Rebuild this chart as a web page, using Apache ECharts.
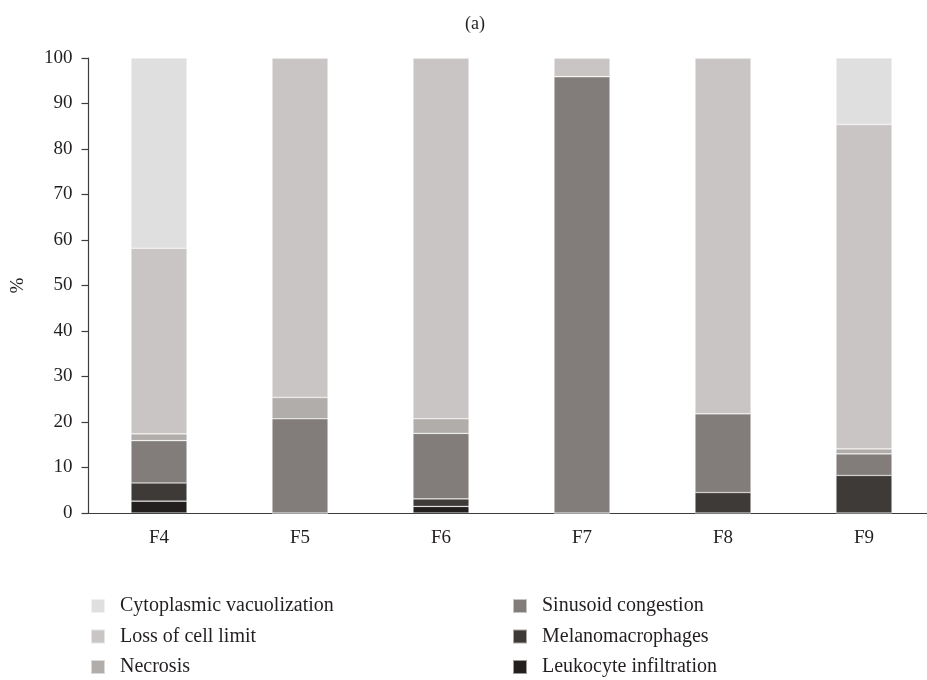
<!DOCTYPE html>
<html>
<head>
<meta charset="utf-8">
<script src="https://cdn.jsdelivr.net/npm/echarts@6/dist/echarts.min.js"></script>
<style>html,body{margin:0;padding:0;background:#fff}#c{width:927px;height:680px}</style>
</head>
<body>
<div id="c"></div>
<script>
const categories = ['F4', 'F5', 'F6', 'F7', 'F8', 'F9'];
const leukocyte = [2.6, 0, 1.45, 0, 0, 0];
const melanomacrophages = [4.0, 0, 1.65, 0, 4.5, 8.25];
const sinusoid = [9.3, 20.7, 14.4, 95.9, 17.3, 4.75];
const necrosis = [1.5, 4.7, 3.2, 0, 0, 1.1];
const lossOfCellLimit = [40.8, 74.6, 79.3, 4.1, 78.2, 71.3];
const cytoplasmic = [41.8, 0, 0, 0, 0, 14.6];
const yTicks = [0, 10, 20, 30, 40, 50, 60, 70, 80, 90, 100];

const FONT = 'Liberation Serif';
const colors = {
  'Leukocyte infiltration': '#221f1e',
  'Melanomacrophages': '#3e3a37',
  'Sinusoid congestion': '#827d7a',
  'Necrosis': '#b0adaa',
  'Loss of cell limit': '#c9c5c4',
  'Cytoplasmic vacuolization': '#e0dfe0'
};
const seriesDefs = [
  ['Leukocyte infiltration', leukocyte],
  ['Melanomacrophages', melanomacrophages],
  ['Sinusoid congestion', sinusoid],
  ['Necrosis', necrosis],
  ['Loss of cell limit', lossOfCellLimit],
  ['Cytoplasmic vacuolization', cytoplasmic]
];

const legendCommon = {
  orient: 'vertical',
  top: 591,
  height: 90,
  width: 380,
  padding: 0,
  icon: 'rect',
  itemWidth: 14,
  itemHeight: 14,
  itemGap: 10.5,
  itemTextGap: 5,
  selectedMode: false,
  textStyle: { fontFamily: FONT, fontSize: 20, color: '#231f20', padding: [0, 0, 0, 10] }
};

const chart = echarts.init(document.getElementById('c'));
chart.setOption({
  animation: false,
  backgroundColor: '#fff',
  title: {
    text: '(a)', left: 470, top: 10, textAlign: 'center',
    textStyle: { fontFamily: FONT, fontSize: 18, fontWeight: 'normal', color: '#231f20' }
  },
  legend: [
    Object.assign({}, legendCommon, { left: 90, top: 596, data: ['Cytoplasmic vacuolization', 'Loss of cell limit', 'Necrosis'] }),
    Object.assign({}, legendCommon, { left: 512, top: 596, data: ['Sinusoid congestion', 'Melanomacrophages', 'Leukocyte infiltration'] })
  ],
  grid: { left: 88.5, top: 58, width: 846, height: 455, containLabel: false, outerBoundsMode: 'none' },
  xAxis: {
    type: 'category',
    data: categories,
    axisLine: { lineStyle: { color: '#3c3c3c', width: 1.2 } },
    axisTick: { alignWithLabel: true, length: 7, lineStyle: { color: '#3c3c3c', width: 1.2 } },
    axisLabel: { fontFamily: FONT, fontSize: 19, color: '#231f20', margin: 16 }
  },
  yAxis: {
    type: 'value',
    min: yTicks[0], max: yTicks[yTicks.length - 1], interval: 10,
    name: '%', nameLocation: 'middle', nameGap: 61, nameRotate: 90,
    nameTextStyle: { fontFamily: FONT, fontSize: 19, color: '#231f20' },
    axisLine: { show: true, lineStyle: { color: '#3c3c3c', width: 1.2 } },
    axisTick: { show: true, length: 7, lineStyle: { color: '#3c3c3c', width: 1.2 } },
    splitLine: { show: false },
    axisLabel: { fontFamily: FONT, fontSize: 19, color: '#231f20', margin: 16 }
  },
  series: seriesDefs.map(([name, data]) => ({
    name, type: 'bar', stack: 'total', data, barWidth: 56,
    itemStyle: { color: colors[name], borderColor: 'rgba(255,255,255,0.55)', borderWidth: 0.6 }
  }))
});
</script>
</body>
</html>
